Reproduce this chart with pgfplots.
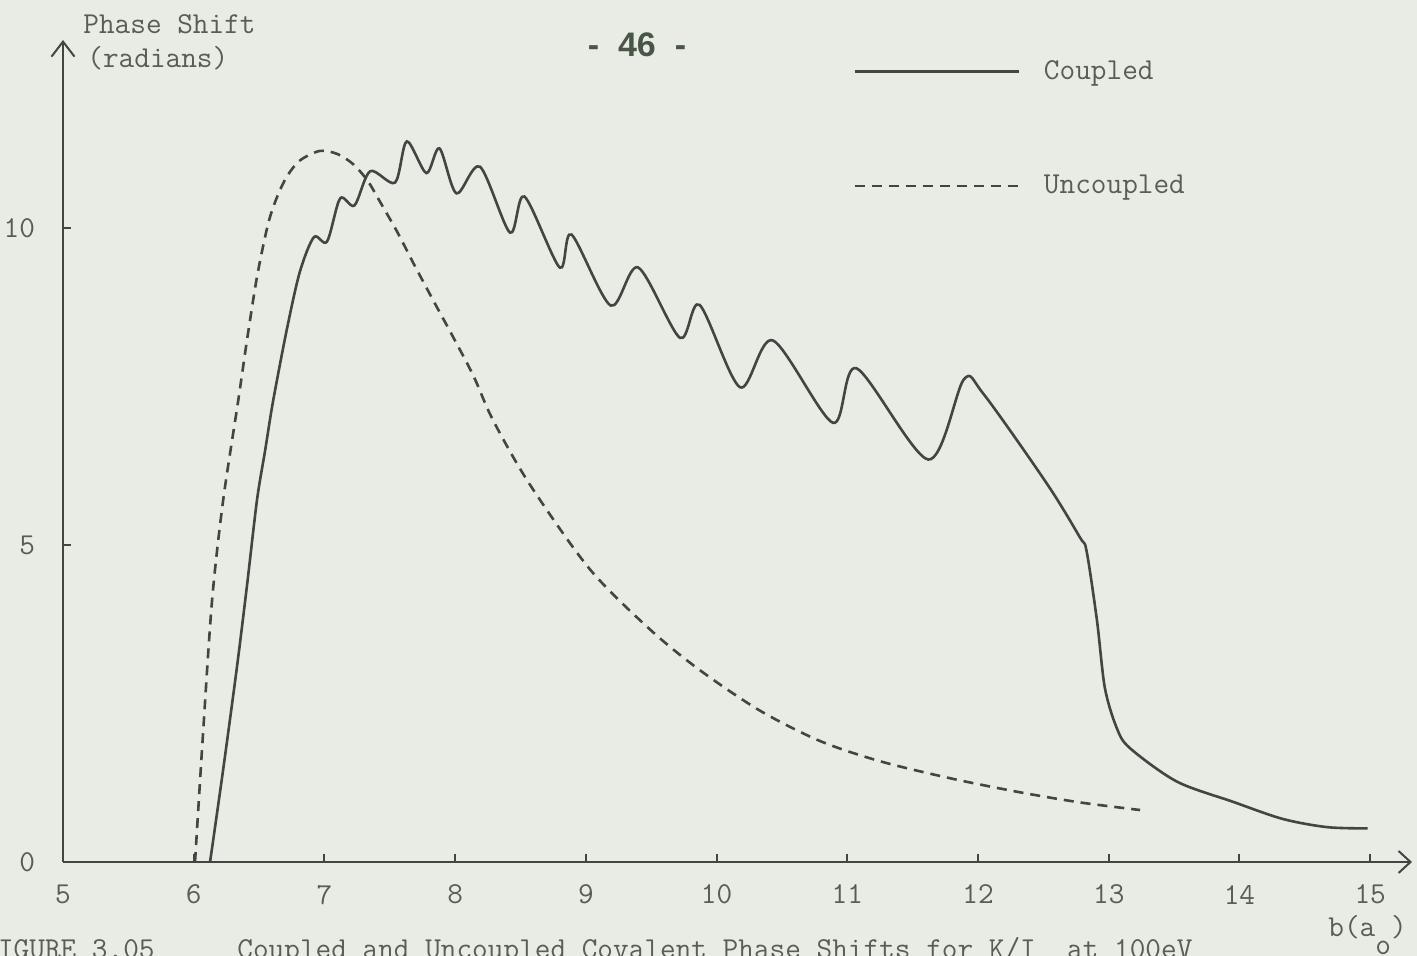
\documentclass[border=0pt]{standalone}
\usepackage{fontspec}
\usepackage{pgfplots}
\pgfplotsset{compat=1.18}
\usetikzlibrary{arrows.meta}
\newfontfamily\pagefont{Liberation Sans}
\definecolor{paper}{RGB}{233,236,228}
\definecolor{ink}{RGB}{66,69,64}
\definecolor{type}{RGB}{90,93,86}
\definecolor{pageink}{RGB}{72,86,72}
\newcommand\tw{\ttfamily\fontsize{15.2}{18}\selectfont}

\begin{document}
\begin{tikzpicture}
\fill[paper] (0,0) rectangle (708.5pt,478pt);
\begin{axis}[
  at={(31.5pt,47pt)}, anchor=south west,
  scale only axis, width=674.5pt, height=411pt,
  xmin=5, xmax=15.32, ymin=0, ymax=12.97,
  axis lines*=left,
  axis line style={ink, line width=1pt},
  x axis line style={-{Straight Barb[length=6pt,width=11pt]}},
  y axis line style={-{Straight Barb[length=7.5pt,width=11.5pt]}},
  xtick={5,...,15}, ytick={0,5,10},
  tick align=inside, major tick length=4pt,
  tick style={ink, line width=1pt},
  ticklabel style={font=\tw, text=type},
  /pgf/number format/assume math mode=true,
  xticklabel style={yshift=-8pt},
  yticklabel style={xshift=-10.5pt},
  clip=false,
  legend style={draw=none, fill=none, at={(0.5856,0.9757)}, anchor=north west,
    inner sep=0pt, row sep=46.5pt, font=\tw, text=type, nodes={inner sep=0pt},
    /tikz/every odd column/.append style={column sep=12pt}},
  legend cell align=left,
  legend image code/.code={\draw[#1] (0pt,0pt) -- (82pt,0pt);},
]
% coupled covalent phase shift
\addplot[ink, line width=1.3pt, smooth, tension=0.5] coordinates {
  (6.125,0) (6.224,1.44) (6.331,3.08) (6.408,4.37) (6.484,5.71) (6.546,6.49)
  (6.607,7.27) (6.714,8.42) (6.813,9.32) (6.92,9.86) (7.02,9.79) (7.12,10.47)
  (7.23,10.36) (7.35,10.90) (7.54,10.72) (7.63,11.37) (7.78,10.87) (7.88,11.26)
  (8.01,10.55) (8.19,10.97) (8.42,9.93) (8.53,10.50) (8.80,9.38) (8.89,9.90)
  (9.19,8.78) (9.40,9.38) (9.72,8.27) (9.87,8.79) (10.18,7.49) (10.43,8.23)
  (10.89,6.93) (11.07,7.79) (11.62,6.35) (11.89,7.61) (12.04,7.39) (12.53,5.96)
  (12.78,5.12) (12.83,4.91) (12.91,3.81) (12.97,2.75) (13.06,2.12) (13.16,1.80)
  (13.52,1.27) (13.95,0.95) (14.33,0.68) (14.67,0.55) (14.98,0.53)
};
\addlegendentry{Coupled}
% uncoupled covalent phase shift
\addplot[ink, line width=1.3pt, dash pattern=on 5pt off 3.5pt, smooth, tension=0.5] coordinates {
  (6.010,0) (6.071,2.02) (6.140,4.12) (6.224,5.69) (6.339,7.26) (6.408,8.24)
  (6.484,9.23) (6.568,10.06) (6.637,10.49) (6.714,10.82) (6.813,11.07) (6.966,11.22)
  (7.10,11.17) (7.22,11.01) (7.33,10.75) (7.43,10.40) (7.56,9.93) (7.68,9.45)
  (7.83,8.87) (7.98,8.30) (8.14,7.67) (8.29,6.97) (8.57,5.96) (9.03,4.62)
  (9.49,3.67) (9.87,3.03) (10.33,2.39) (10.79,1.91) (11.25,1.59) (11.79,1.32)
  (12.32,1.10) (12.78,0.94) (13.24,0.82)
};
\addlegendentry{Uncoupled}
\end{axis}
\node[anchor=base west, inner sep=0pt, font=\tw, text=type] at (41.5pt,461pt) {Phase Shift};
\node[anchor=base west, inner sep=0pt, font=\tw, text=type] at (43.5pt,444pt) {(radians)};
\node[anchor=base, inner sep=0pt, font=\pagefont\bfseries\fontsize{17}{20}\selectfont, text=pageink] at (318.5pt,449.5pt) {-\ \ 46\ \ -};
\node[anchor=base west, inner sep=0pt, font=\tw, text=type] at (664pt,9.5pt) {b(a\raisebox{-9pt}{o})};
\node[anchor=base east, inner sep=0pt, font=\tw, text=type] at (77.5pt,-1.5pt) {FIGURE 3.05};
\node[anchor=base west, inner sep=0pt, font=\tw, text=type] at (118.5pt,-1.5pt) {Coupled and Uncoupled Covalent Phase Shifts for K/I\ \ at 100eV};
\pgfresetboundingbox
\useasboundingbox (0,0) rectangle (708.5pt,478pt);
\end{tikzpicture}
\end{document}
